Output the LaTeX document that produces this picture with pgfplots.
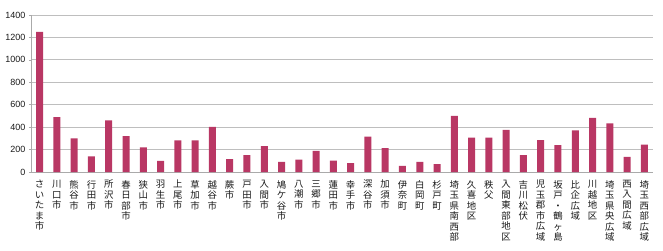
\documentclass[border=0pt]{standalone}
\usepackage{pgfplots}
\pgfplotsset{compat=1.18}
\usepackage{fontspec}
\setmainfont{Liberation Sans}
\newfontfamily\cjk{Noto Sans CJK JP}
\definecolor{barc}{RGB}{185,55,100}
\definecolor{gridc}{RGB}{190,190,190}
\definecolor{axc}{RGB}{170,170,170}
\begin{document}
\begin{tikzpicture}
\begin{axis}[
  scale only axis,
  width=622pt, height=157pt,
  xmin=-0.5, xmax=35.5,
  ymin=0, ymax=1400,
  ytick={0,200,...,1400},
  ymajorgrids,
  grid style={gridc, line width=0.9pt},
  axis line style={axc, line width=0.6pt},
  axis x line*=bottom,
  axis y line*=left,
  tick style={axc, line width=0.5pt},
  tick align=outside,
  major tick length=2pt,
  xtick={0,...,35},
  x tick style={draw=none},
  minor xtick={-0.5,0.5,...,35.5},
  minor tick length=3pt,
  minor x tick style={axc, line width=0.5pt},
  yticklabel style={font=\fontsize{9}{10}\selectfont, text=black!90},
  /pgf/number format/assume math mode=true,
  /pgf/number format/1000 sep={},
  xticklabel style={font=\cjk\fontsize{9.4}{10.5}\selectfont, align=center, anchor=north, text=black!90, inner sep=0pt, yshift=-6pt},
  xticklabels={
    {さ\\い\\た\\ま\\市},{川\\口\\市},{熊\\谷\\市},{行\\田\\市},{所\\沢\\市},{春\\日\\部\\市},
    {狭\\山\\市},{羽\\生\\市},{上\\尾\\市},{草\\加\\市},{越\\谷\\市},{蕨\\市},
    {戸\\田\\市},{入\\間\\市},{鳩\\ケ\\谷\\市},{八\\潮\\市},{三\\郷\\市},{蓮\\田\\市},
    {幸\\手\\市},{深\\谷\\市},{加\\須\\市},{伊\\奈\\町},{白\\岡\\町},{杉\\戸\\町},
    {埼\\玉\\県\\南\\西\\部},{久\\喜\\地\\区},{秩\\父},{入\\間\\東\\部\\地\\区},{吉\\川\\松\\伏},{児\\玉\\郡\\市\\広\\域},
    {坂\\戸\\・\\鶴\\ヶ\\島},{比\\企\\広\\域},{川\\越\\地\\区},{埼\\玉\\県\\央\\広\\域},{西\\入\\間\\広\\域},{埼\\玉\\西\\部\\広\\域}},
  clip=false,
]
\addplot[ybar, bar width=7pt, fill=barc, draw=none] coordinates {
(0,1250) (1,490) (2,300) (3,140) (4,460) (5,320)
(6,220) (7,100) (8,282) (9,282) (10,402) (11,115)
(12,150) (13,230) (14,90) (15,110) (16,188) (17,102)
(18,80) (19,316) (20,212) (21,55) (22,90) (23,70)
(24,500) (25,306) (26,306) (27,375) (28,150) (29,284)
(30,240) (31,372) (32,482) (33,434) (34,134) (35,245)
};
\path (rel axis cs:0,0) ++(-31pt,-79pt) coordinate (bl);
\path (rel axis cs:1,1) ++(10pt,15pt) coordinate (tr);
\end{axis}
\useasboundingbox (bl) rectangle (tr);
\end{tikzpicture}
\end{document}
